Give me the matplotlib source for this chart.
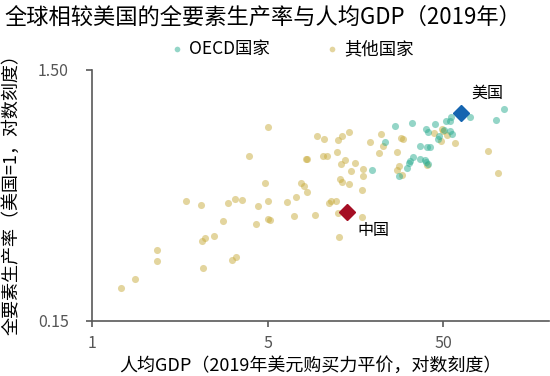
import matplotlib
matplotlib.use("Agg")
from matplotlib import pyplot as plt
from matplotlib.ticker import FixedLocator, NullLocator

plt.rcParams['font.family'] = ['Noto Sans CJK SC', 'DejaVu Sans']

# GDP per capita (thousand USD, PPP 2019) and TFP relative to US
oecd_gdp = [111.2, 100.4, 71.4, 55.2, 54.9, 51.5, 44.7, 33.0, 26.6, 40.1,
            40.8, 50.4, 54.4, 56.1, 47.2, 46.6, 23.4, 37.0, 40.2, 42.0,
            33.7, 32.5, 31.9, 31.2, 36.9, 39.3, 40.1, 41.0, 28.1, 19.6]
oecd_tfp = [1.045, 0.945, 0.974, 0.977, 0.942, 0.935, 0.915, 0.920, 0.899, 0.870,
            0.850, 0.865, 0.858, 0.833, 0.820, 0.795, 0.774, 0.743, 0.738, 0.736,
            0.676, 0.653, 0.641, 0.612, 0.662, 0.659, 0.644, 0.631, 0.569, 0.597]

other_gdp = [0.73, 0.87, 1.17, 1.165, 1.70, 2.08, 2.10, 2.19, 2.48, 2.14,
             2.76, 2.97, 3.14, 3.29, 3.23, 3.58, 3.92, 4.26, 4.40, 4.83,
             5.00, 4.99, 5.00, 5.15, 6.42, 7.03, 7.28, 7.71, 8.02, 8.41,
             8.30, 8.38, 9.34, 9.59, 10.4, 10.3, 10.9, 11.2, 11.5, 12.3,
             12.6, 12.8, 12.5, 13.3, 14.5, 12.4, 13.8, 13.1, 15.7, 14.9,
             17.5, 17.5, 12.9, 13.2, 14.6, 17.1, 17.2, 19.1, 22.0, 22.8,
             21.4, 27.2, 28.8, 29.3, 27.3, 27.9, 29.1, 40.4, 44.2, 49.0,
             49.6, 52.8, 48.6, 58.5, 89.6, 103.1]
other_tfp = [0.203, 0.220, 0.286, 0.260, 0.449, 0.435, 0.313, 0.322, 0.327, 0.243,
             0.376, 0.441, 0.263, 0.269, 0.457, 0.456, 0.681, 0.365, 0.429, 0.531,
             0.886, 0.449, 0.381, 0.379, 0.446, 0.391, 0.467, 0.531, 0.517, 0.489,
             0.662, 0.665, 0.395, 0.820, 0.794, 0.679, 0.679, 0.441, 0.450, 0.451,
             0.405, 0.323, 0.789, 0.818, 0.845, 0.706, 0.656, 0.631, 0.638, 0.593,
             0.606, 0.566, 0.552, 0.537, 0.524, 0.497, 0.389, 0.774, 0.836, 0.748,
             0.700, 0.708, 0.805, 0.796, 0.600, 0.622, 0.574, 0.624, 0.839, 0.875,
             0.855, 0.826, 0.781, 0.767, 0.714, 0.582]

us_gdp, us_tfp = 63.2, 1.01
cn_gdp, cn_tfp = 14.1, 0.406

xtick_vals = [0.5, 5, 50]
xtick_labels = ['1', '5', '50']
ytick_vals = [0.15, 1.50]
ytick_labels = ['0.15', '1.50']

axis_color = '#595959'

fig = plt.figure(figsize=(5.5, 3.76), dpi=100)
ax = fig.add_axes([0.168, 0.147, 0.830, 0.667])

ax.scatter(oecd_gdp, oecd_tfp, s=26, color='#2BAD91', alpha=0.5,
           linewidths=0, label='OECD国家', zorder=3)
ax.scatter(other_gdp, other_tfp, s=26, color='#C9AC3E', alpha=0.5,
           linewidths=0, label='其他国家', zorder=2)
ax.plot(us_gdp, us_tfp, marker='D', ms=8, color='#1565B0', ls='none', zorder=4)
ax.plot(cn_gdp, cn_tfp, marker='D', ms=8, color='#A50E24', ls='none', zorder=4)

ax.annotate('美国', (us_gdp, us_tfp), xytext=(19, 14), textcoords='offset points',
            ha='center', va='center', fontsize=11.5)
ax.annotate('中国', (cn_gdp, cn_tfp), xytext=(19, -13), textcoords='offset points',
            ha='center', va='center', fontsize=11.5)

ax.set_xscale('log')
ax.set_yscale('log')
ax.set_xlim(0.5, 200)
ax.set_ylim(0.15, 1.5)
ax.xaxis.set_major_locator(FixedLocator(xtick_vals))
ax.xaxis.set_minor_locator(NullLocator())
ax.set_xticklabels(xtick_labels)
ax.yaxis.set_major_locator(FixedLocator(ytick_vals))
ax.yaxis.set_minor_locator(NullLocator())
ax.set_yticklabels(ytick_labels)

for s in ['top', 'right']:
    ax.spines[s].set_visible(False)
for s in ['left', 'bottom']:
    ax.spines[s].set_color(axis_color)
    ax.spines[s].set_linewidth(1.2)
ax.tick_params(axis='both', colors=axis_color, labelcolor='#555555',
               labelsize=11.5, length=4, width=1.2, direction='out')
ax.tick_params(axis='y', pad=13)
ax.tick_params(axis='x', pad=6)

ax.set_xlabel('人均GDP（2019年美元购买力平价，对数刻度）', fontsize=13)
ax.set_ylabel('全要素生产率（美国=1，对数刻度）', fontsize=13)
ax.xaxis.set_label_coords(0.478, -0.142)
ax.yaxis.set_label_coords(-0.158, 0.52)

fig.text(0.008, 0.955, '全球相较美国的全要素生产率与人均GDP（2019年）',
         fontsize=16, ha='left', va='center')

fig.legend(loc='center', bbox_to_anchor=(0.531, 0.870), ncol=2, frameon=False,
           fontsize=12.5, handlelength=0.8, handletextpad=0.3,
           columnspacing=3.2, markerscale=0.8)

fig.savefig('out.png', dpi=100)
